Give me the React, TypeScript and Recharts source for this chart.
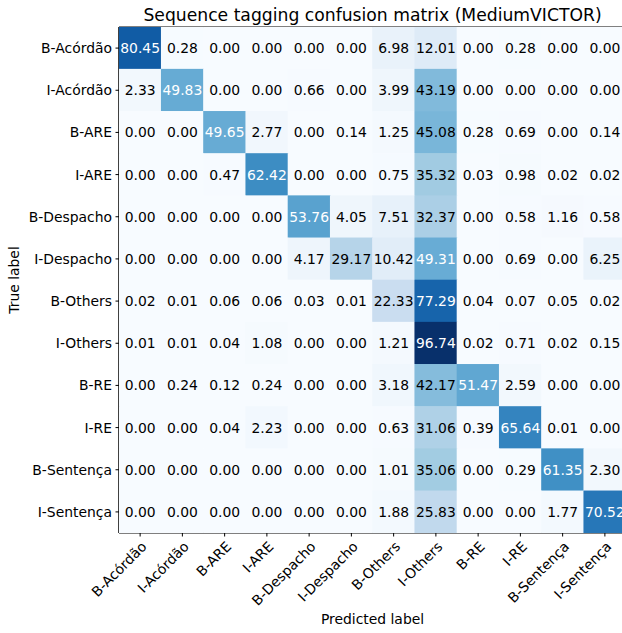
import { ScatterChart, Scatter, XAxis, YAxis, ReferenceLine, Label } from "recharts"

const labels = [
  "B-Acórdão",
  "I-Acórdão",
  "B-ARE",
  "I-ARE",
  "B-Despacho",
  "I-Despacho",
  "B-Others",
  "I-Others",
  "B-RE",
  "I-RE",
  "B-Sentença",
  "I-Sentença",
]

// one row per true label, columns in predicted label order
const rowBAcordao = [80.45, 0.28, 0.0, 0.0, 0.0, 0.0, 6.98, 12.01, 0.0, 0.28, 0.0, 0.0]
const rowIAcordao = [2.33, 49.83, 0.0, 0.0, 0.66, 0.0, 3.99, 43.19, 0.0, 0.0, 0.0, 0.0]
const rowBARE = [0.0, 0.0, 49.65, 2.77, 0.0, 0.14, 1.25, 45.08, 0.28, 0.69, 0.0, 0.14]
const rowIARE = [0.0, 0.0, 0.47, 62.42, 0.0, 0.0, 0.75, 35.32, 0.03, 0.98, 0.02, 0.02]
const rowBDespacho = [0.0, 0.0, 0.0, 0.0, 53.76, 4.05, 7.51, 32.37, 0.0, 0.58, 1.16, 0.58]
const rowIDespacho = [0.0, 0.0, 0.0, 0.0, 4.17, 29.17, 10.42, 49.31, 0.0, 0.69, 0.0, 6.25]
const rowBOthers = [0.02, 0.01, 0.06, 0.06, 0.03, 0.01, 22.33, 77.29, 0.04, 0.07, 0.05, 0.02]
const rowIOthers = [0.01, 0.01, 0.04, 1.08, 0.0, 0.0, 1.21, 96.74, 0.02, 0.71, 0.02, 0.15]
const rowBRE = [0.0, 0.24, 0.12, 0.24, 0.0, 0.0, 3.18, 42.17, 51.47, 2.59, 0.0, 0.0]
const rowIRE = [0.0, 0.0, 0.04, 2.23, 0.0, 0.0, 0.63, 31.06, 0.39, 65.64, 0.01, 0.0]
const rowBSentenca = [0.0, 0.0, 0.0, 0.0, 0.0, 0.0, 1.01, 35.06, 0.0, 0.29, 61.35, 2.3]
const rowISentenca = [0.0, 0.0, 0.0, 0.0, 0.0, 0.0, 1.88, 25.83, 0.0, 0.0, 1.77, 70.52]

const matrix = [
  rowBAcordao,
  rowIAcordao,
  rowBARE,
  rowIARE,
  rowBDespacho,
  rowIDespacho,
  rowBOthers,
  rowIOthers,
  rowBRE,
  rowIRE,
  rowBSentenca,
  rowISentenca,
]

const cells = matrix.flatMap((row, r) => row.map((value, c) => ({ col: c, row: r, value })))
const vmax = Math.max(...cells.map((d) => d.value))
const indices = labels.map((_, i) => i)

// matplotlib "Blues"
const bluesStops = [
  [247, 251, 255],
  [222, 235, 247],
  [198, 219, 239],
  [158, 202, 225],
  [107, 174, 214],
  [66, 146, 198],
  [33, 113, 181],
  [8, 81, 156],
  [8, 48, 107],
]

function blues(t: number) {
  const s = Math.min(1, Math.max(0, t)) * (bluesStops.length - 1)
  const i = Math.min(bluesStops.length - 2, Math.floor(s))
  const f = s - i
  const a = bluesStops[i]
  const b = bluesStops[i + 1]
  const c = a.map((v, k) => Math.round(v + (b[k] - v) * f))
  return `rgb(${c[0]},${c[1]},${c[2]})`
}

const W = 626
const H = 633
const TOP = 27
const YAXIS_W = 119
const XAXIS_H = 100
const CELL_W = (W - YAXIS_W) / labels.length
const CELL_H = (H - TOP - XAXIS_H) / labels.length
const FONT = "DejaVu Sans"

const HeatCell = (props: any) => {
  const { cx, cy, payload } = props
  const v = payload.value as number
  return (
    <g>
      <rect
        x={cx - CELL_W / 2 - 0.3}
        y={cy - CELL_H / 2 - 0.3}
        width={CELL_W + 0.6}
        height={CELL_H + 0.6}
        fill={blues(v / vmax)}
      />
      <text
        x={cx}
        y={cy}
        dy="0.36em"
        textAnchor="middle"
        fontSize={13.9}
        fontFamily={FONT}
        fill={v > vmax / 2 ? "#ffffff" : "#000000"}
      >
        {v.toFixed(2)}
      </text>
    </g>
  )
}

const XTick = (props: any) => {
  const { x, y, payload } = props
  const tx = x + 7.5
  const ty = y + 11
  return (
    <text
      x={tx}
      y={ty}
      transform={`rotate(-45 ${tx} ${ty})`}
      textAnchor="end"
      fontSize={13.9}
      fontFamily={FONT}
      fill="#000"
    >
      {labels[payload.value]}
    </text>
  )
}

export default function App() {
  return (
    <div style={{ position: "absolute", left: 0, top: 0, width: 622, height: 633, overflow: "hidden", background: "#fff" }}>
      <div
        style={{
          position: "absolute",
          left: YAXIS_W,
          top: 7,
          width: W - YAXIS_W,
          textAlign: "center",
          fontFamily: FONT,
          fontSize: 17.2,
          lineHeight: "17.2px",
          color: "#000",
          whiteSpace: "nowrap",
        }}
      >
        Sequence tagging confusion matrix (MediumVICTOR)
      </div>
      <ScatterChart width={W} height={H} margin={{ top: TOP, right: 0, bottom: 0, left: 0 }}>
        <XAxis
          type="number"
          dataKey="col"
          domain={[-0.5, labels.length - 0.5]}
          allowDataOverflow
          ticks={indices}
          interval={0}
          height={XAXIS_H}
          tickSize={3.5}
          tickMargin={0}
          tick={<XTick />}
          tickLine={{ stroke: "#000" }}
          axisLine={{ stroke: "#000" }}
        >
          <Label
            value="Predicted label"
            position="insideBottom"
            offset={9}
            style={{ fontFamily: FONT, fontSize: 13.9, fill: "#000" }}
          />
        </XAxis>
        <YAxis
          type="number"
          dataKey="row"
          domain={[-0.5, labels.length - 0.5]}
          allowDataOverflow
          reversed
          ticks={indices}
          interval={0}
          width={YAXIS_W}
          tickSize={3.5}
          tickMargin={3.5}
          tickFormatter={(i: number) => labels[i]}
          tick={{ fontFamily: FONT, fontSize: 13.9, fill: "#000" }}
          tickLine={{ stroke: "#000" }}
          axisLine={{ stroke: "#000" }}
        >
          <Label
            value="True label"
            angle={-90}
            position="insideLeft"
            offset={14}
            style={{ fontFamily: FONT, fontSize: 13.9, fill: "#000", textAnchor: "middle" }}
          />
        </YAxis>
        <Scatter data={cells} shape={<HeatCell />} isAnimationActive={false} />
        <ReferenceLine y={-0.5} stroke="#000" strokeWidth={1} />
        <ReferenceLine x={-0.5} stroke="#000" strokeWidth={1} />
      </ScatterChart>
    </div>
  )
}
